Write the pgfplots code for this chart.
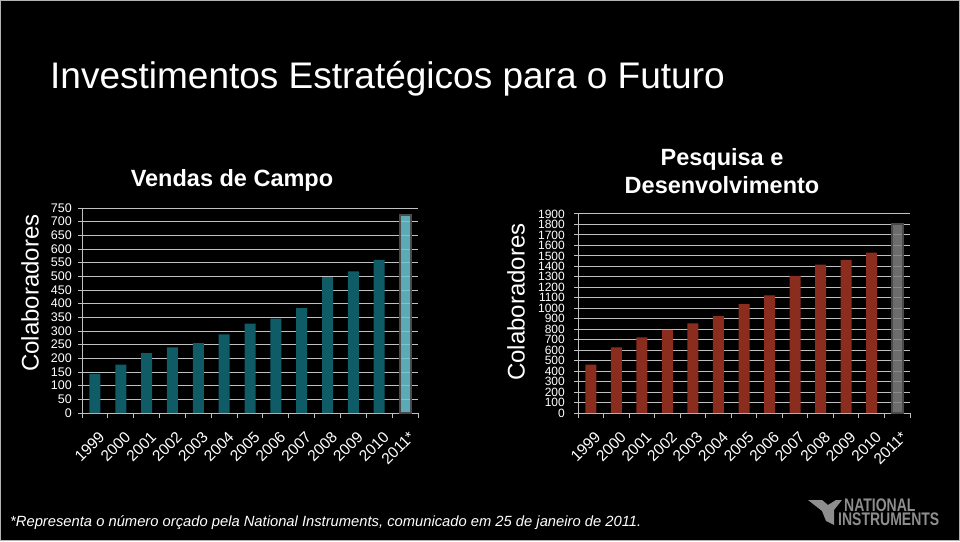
\documentclass[border=0pt]{standalone}
\usepackage{fontspec}
\setmainfont{Liberation Sans}
\usepackage{pgfplots}
\pgfplotsset{compat=1.18}
\definecolor{tealbar}{HTML}{0F5B66}
\definecolor{tealfc}{HTML}{6CC8D6}
\definecolor{redbar}{HTML}{8A2D1E}
\definecolor{greyfc}{HTML}{808080}
\definecolor{framec}{HTML}{4A4A4A}
\definecolor{gridc}{HTML}{C0C0C0}
\definecolor{logoc}{HTML}{8E8E8E}
\pgfplotsset{
  colab/.style={
    scale only axis,
    xmin=-0.5, xmax=12.5, ymin=0,
    axis lines*=left,
    axis line style={gridc, line width=1pt, -},
    ymajorgrids,
    grid style={gridc, line width=1pt},
    xtick={0,...,12},
    xticklabels={1999,2000,2001,2002,2003,2004,2005,2006,2007,2008,2009,2010,2011*},
    major x tick style={draw=none},
    minor xtick={-0.5,0.5,1.5,2.5,3.5,4.5,5.5,6.5,7.5,8.5,9.5,10.5,11.5,12.5},
    minor x tick style={gridc, line width=1pt},
    minor tick length=5pt,
    major y tick style={gridc, line width=1pt},
    major tick length=4pt,
    tick align=outside,
    x tick label style={xshift=7pt, yshift=-17pt, rotate=45, anchor=east, text=white, font=\fontsize{15.5}{15.5}\selectfont, inner sep=0pt},
    y tick label style={text=white, inner sep=0pt, xshift=-6pt},
    /pgf/number format/assume math mode=true,
    /pgf/number format/1000 sep={},
    ybar, bar width=11pt,
  }
}
\begin{document}
\begin{tikzpicture}
\fill[black] (0pt,0pt) rectangle (960pt,541pt);
\useasboundingbox (0pt,0pt) rectangle (960pt,541pt);
\draw[gray!60, line width=1pt] (0.5pt,0.5pt) rectangle (959.5pt,540.5pt);

\node[anchor=base west, text=white, font=\fontsize{37}{37}\selectfont, inner sep=0pt] at (50pt,452pt) {Investimentos Estratégicos para o Futuro};

\node[text=white, font=\bfseries\fontsize{23.5}{23.5}\selectfont, inner sep=0pt] at (232pt,361pt) {Vendas de Campo};
\node[text=white, font=\bfseries\fontsize{23.5}{28}\selectfont, align=center, inner sep=0pt] at (722pt,370pt) {Pesquisa e\\Desenvolvimento};

\node[rotate=90, text=white, font=\fontsize{24}{24}\selectfont, inner sep=0pt] at (30pt,248pt) {Colaboradores};
\node[rotate=90, text=white, font=\fontsize{24}{24}\selectfont, inner sep=0pt] at (516pt,239pt) {Colaboradores};

\begin{axis}[colab, at={(82pt,128pt)}, anchor=south west, width=336pt, height=205pt,
  ymax=750, ytick={0,50,...,750},
  y tick label style={font=\fontsize{12.5}{12.5}\selectfont}]
\addplot[fill=tealbar, draw=none, bar shift=0pt] coordinates {
(0,143) (1,177) (2,219) (3,240) (4,256) (5,288) (6,327) (7,345) (8,384) (9,497) (10,518) (11,560)};
\addplot[fill=tealfc, fill opacity=0.85, draw=framec, line width=2pt, bar shift=0pt] coordinates {(12,725)};
\end{axis}

\begin{axis}[colab, at={(578pt,128pt)}, anchor=south west, width=332pt, height=199pt,
  ymax=1900, ytick={0,100,...,1900},
  y tick label style={font=\fontsize{12}{11}\selectfont, xshift=-3pt}]
\addplot[fill=redbar, draw=none, bar shift=0pt] coordinates {
(0,461) (1,626) (2,721) (3,794) (4,855) (5,925) (6,1039) (7,1122) (8,1309) (9,1417) (10,1459) (11,1532)};
\addplot[fill=greyfc, fill opacity=0.85, draw=framec, line width=2pt, bar shift=0pt] coordinates {(12,1800)};
\end{axis}

\node[anchor=base west, text=white, font=\itshape\fontsize{14.75}{15}\selectfont, inner sep=0pt] at (10pt,15pt) {*Representa o número orçado pela National Instruments, comunicado em 25 de janeiro de 2011.};

% logo
\fill[logoc] (808pt,41pt) -- (822pt,41pt) -- (828pt,36pt) -- (836pt,41pt) -- (842pt,41pt) -- (834pt,31pt) -- (834pt,16pt) -- (826pt,20pt) -- (822pt,30pt) -- cycle;
\node[anchor=base west, text=logoc, font=\bfseries\fontsize{14}{14}\selectfont, inner sep=0pt] at (844pt,30pt) {\scalebox{1}[1.3]{NATIONAL}};
\node[anchor=base west, text=logoc, font=\bfseries\fontsize{14}{14}\selectfont, inner sep=0pt] at (838pt,16pt) {\scalebox{1}[1.3]{INSTRUMENTS}};
\end{tikzpicture}
\end{document}
